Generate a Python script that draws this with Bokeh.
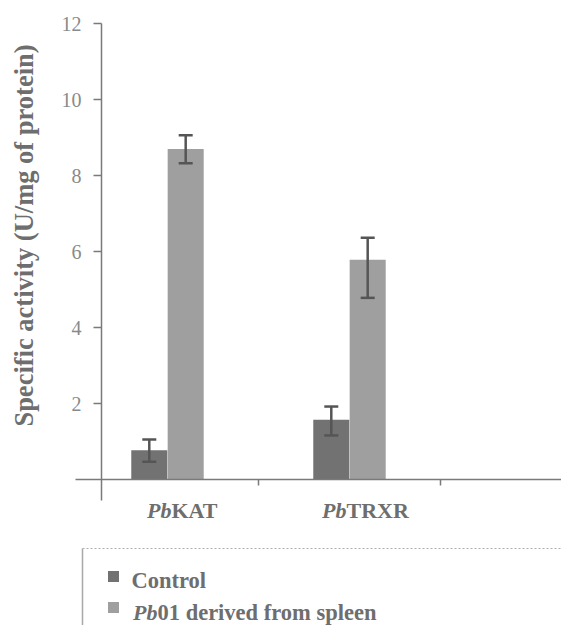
import math
from bokeh.plotting import figure
from bokeh.models import (Range1d, FixedTicker, ColumnDataSource, Whisker, TeeHead,
                          LinearAxis)
from bokeh.core.properties import value
from bokeh.embed import file_html
from bokeh.resources import INLINE

# ---- data ----
categories = ["KAT", "TRXR"]
cat_prefix = ["Pb", "Pb"]
series_names = ["Control", "01 derived from spleen"]
series_prefix = ["", "Pb"]
control = [0.77, 1.57]
control_err_up = [0.28, 0.35]
control_err_lo = [0.30, 0.41]
pb01 = [8.70, 5.78]
pb01_err_up = [0.36, 0.58]
pb01_err_lo = [0.38, 1.00]
y_ticks = [2, 4, 6, 8, 10, 12]
y_title = "Specific activity (U/mg of protein)"

FONT = "Liberation Serif"
C_CTRL = "#727272"
C_PB = "#9f9f9f"
AXIS_C = "#7a7a7a"
TXT_C = "#6e6e6e"

W, H = 561, 625
XPX, YPX = 182.0, 38.0          # pixels per data unit
X0 = -0.3626 - 101 / XPX        # data x at left canvas edge
YT = 12.0 + 23 / YPX            # data y at top canvas edge


def xd(px):
    return X0 + px / XPX


def yd(py):
    return YT - py / YPX


idx = list(range(len(categories)))
dodge = 0.1
bw = 0.198

p = figure(width=W, height=H, output_backend="svg", toolbar_location=None,
           x_range=Range1d(xd(0), xd(W)), y_range=Range1d(yd(H), yd(0)),
           min_border=0, x_axis_location=None, y_axis_location=None)
p.background_fill_color = "white"
p.border_fill_color = "white"
p.outline_line_color = None
p.grid.visible = False

yax = LinearAxis(ticker=FixedTicker(ticks=y_ticks), fixed_location=xd(101),
                 bounds=(yd(500), 12.0))
yax.axis_line_color = AXIS_C
yax.axis_line_width = 1.5
yax.major_tick_line_color = AXIS_C
yax.major_tick_line_width = 1.5
yax.major_tick_out = 8
yax.major_tick_in = 0
yax.minor_tick_line_color = None
yax.major_label_standoff = 12
yax.major_label_text_font = FONT
yax.major_label_text_font_size = "20px"
yax.major_label_text_color = "#8a8a8a"
p.add_layout(yax, "left")

xax = LinearAxis(ticker=FixedTicker(ticks=[0.5, 1.5]), fixed_location=0,
                 bounds=(xd(75), xd(W)))
xax.axis_line_color = AXIS_C
xax.axis_line_width = 1.5
xax.major_tick_line_color = AXIS_C
xax.major_tick_line_width = 1.5
xax.major_tick_out = 6
xax.major_tick_in = 0
xax.minor_tick_line_color = None
xax.major_label_text_font_size = "0px"
xax.major_label_text_color = None
p.add_layout(xax, "below")

# y axis title
p.text(x=[xd(23)], y=[yd(235)], text=[y_title], angle=math.pi / 2,
       text_font=value(FONT), text_font_size="26.5px", text_font_style="bold",
       text_color=TXT_C, text_align="center", text_baseline="middle")

src = ColumnDataSource(dict(
    xc=[i - dodge for i in idx], xp=[i + dodge for i in idx],
    control=control, pb01=pb01,
    c_up=[v + e for v, e in zip(control, control_err_up)],
    c_lo=[v - e for v, e in zip(control, control_err_lo)],
    p_up=[v + e for v, e in zip(pb01, pb01_err_up)],
    p_lo=[v - e for v, e in zip(pb01, pb01_err_lo)],
))

p.vbar(x="xc", top="control", bottom=0, width=bw, source=src,
       fill_color=C_CTRL, line_color=None)
p.vbar(x="xp", top="pb01", bottom=0, width=bw, source=src,
       fill_color=C_PB, line_color=None)

for base, up, lo in (("xc", "c_up", "c_lo"), ("xp", "p_up", "p_lo")):
    w = Whisker(base=base, upper=up, lower=lo, source=src, line_color="#555555",
                line_width=2.5, level="overlay",
                upper_head=TeeHead(size=14, line_color="#555555", line_width=2.5),
                lower_head=TeeHead(size=14, line_color="#555555", line_width=2.5))
    p.add_layout(w)

# category labels: italic prefix + bold name, joined at split point
label_shift = [4, -3]
p.text(x=idx, y=[0] * len(idx), text=cat_prefix, x_offset=label_shift, y_offset=31,
       text_font=value(FONT), text_font_size="22px", text_font_style="bold italic",
       text_color=TXT_C, text_align="right", text_baseline="alphabetic")
p.text(x=idx, y=[0] * len(idx), text=categories, x_offset=label_shift, y_offset=31,
       text_font=value(FONT), text_font_size="22px", text_font_style="bold",
       text_color=TXT_C, text_align="left", text_baseline="alphabetic")

# ---- legend box ----
p.segment(x0=[xd(82)], y0=[yd(548)], x1=[xd(W)], y1=[yd(548)], line_color="#b0b0b0",
          line_width=1.2, line_dash="2 2")
p.segment(x0=[xd(82)], y0=[yd(548)], x1=[xd(82)], y1=[yd(H)], line_color="#a8a8a8",
          line_width=1.5)
p.scatter(x=[xd(113)] * 2, y=[yd(576), yd(607)], marker="square", size=11,
          fill_color=[C_CTRL, C_PB], line_color=None)
split_x = [xd(131), xd(157)]
p.text(x=split_x, y=[yd(580), yd(612)], text=series_prefix, text_font=value(FONT),
       text_font_size="22px", text_font_style="bold italic", text_color=TXT_C,
       text_align="right", text_baseline="alphabetic")
p.text(x=split_x, y=[yd(580), yd(612)], text=series_names, text_font=value(FONT),
       text_font_size="22.5px", text_font_style="bold", text_color=TXT_C,
       text_align="left", text_baseline="alphabetic")

open("out.html", "w").write(file_html(p, INLINE))
